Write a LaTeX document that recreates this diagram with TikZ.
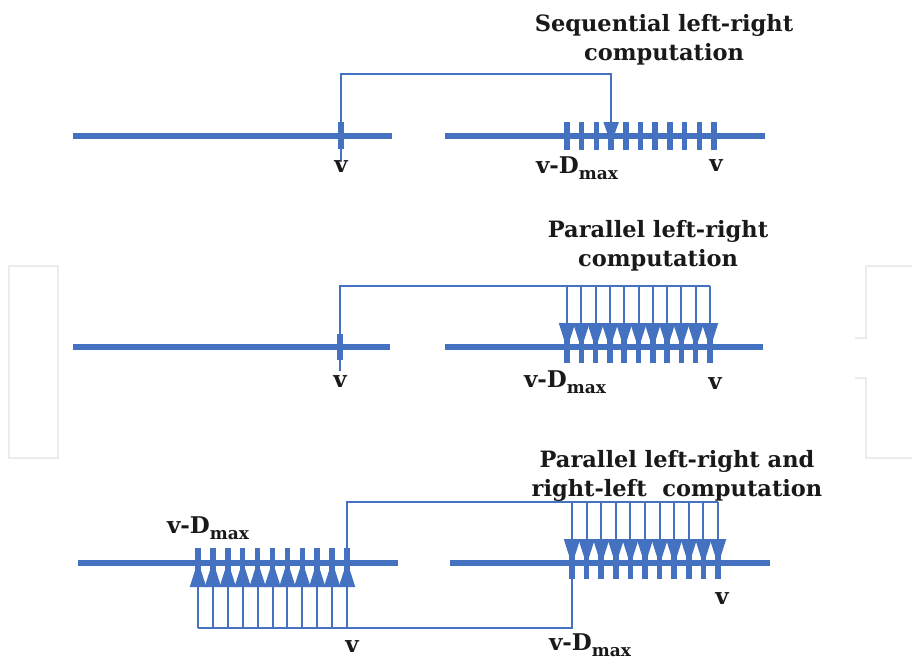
\documentclass[tikz,border=0pt]{standalone}
\usepackage{fontspec}
\setmainfont{DejaVu Serif}
\usetikzlibrary{arrows.meta}
\definecolor{lineblue}{RGB}{68,114,192}
\definecolor{wmgray}{RGB}{236,236,236}
\tikzset{
  mainline/.style={line width=6pt, lineblue},
  tickmark/.style={line width=5.5pt, lineblue},
  conn/.style={line width=2pt, lineblue},
  darrow/.style={line width=2pt, lineblue, -{Triangle[length=26pt,width=16pt]}},
  sarrow/.style={line width=2pt, lineblue, -{Triangle[length=22pt,width=15pt]}},
  title/.style={font=\fontsize{22.5}{29}\selectfont\bfseries, align=center, text=black!90, inner sep=0pt},
  lbl/.style={font=\fontsize{23}{26}\selectfont\bfseries, text=black!90, inner sep=0pt},
  wm/.style={line width=1.6pt, wmgray}
}
\newcommand{\vdmax}{v-D\raisebox{-0.28em}{\fontsize{17}{17}\selectfont max}}
\begin{document}
\begin{tikzpicture}[x=1pt,y=-1pt]
\useasboundingbox (0,0) rectangle (912,662);
% watermark brackets
\draw[wm] (9,266) -- (58,266) -- (58,458) -- (9,458) -- cycle;
\draw[wm] (912,266) -- (866,266) -- (866,338) -- (855,338);
\draw[wm] (855,378) -- (866,378) -- (866,458) -- (912,458);

% ---------- Panel 1 ----------
\node[title] (t1) at (664,40) {Sequential left-right\\computation};
\draw[mainline] (73,136) -- (392,136);
\draw[mainline] (445,136) -- (765,136);
\coordinate (p1v) at (341,136);
\draw[tickmark] ([yshift=-13]p1v) -- ([yshift=14]p1v);
\foreach \i in {0,...,10}{
  \coordinate (p1t\i) at ({567+14.7*\i},136);
  \draw[tickmark] ([yshift=-14]p1t\i) -- ([yshift=14]p1t\i);
}
\coordinate (p1a) at ([yshift=-26]p1v);
\coordinate (p1b) at (341,74);
\coordinate (p1c) at ({567+14.7*3},74);
\coordinate (p1d) at ([yshift=-8]p1t3);
\draw[sarrow] (p1a) -- (p1b) -- (p1c) -- (p1d);
\node[lbl] (l1a) at (341,167) {v};
\node[lbl] (l1b) at (577,168) {\vdmax};
\node[lbl] (l1c) at (716,166) {v};

% ---------- Panel 2 ----------
\node[title] (t2) at (658,246) {Parallel left-right\\computation};
\draw[mainline] (73,347) -- (390,347);
\draw[mainline] (445,347) -- (763,347);
\coordinate (p2v) at (340,347);
\draw[tickmark] ([yshift=-13]p2v) -- ([yshift=13]p2v);
\foreach \i in {0,...,10}{
  \coordinate (p2t\i) at ({567+14.3*\i},347);
  \draw[tickmark] ([yshift=-16]p2t\i) -- ([yshift=16]p2t\i);
}
\coordinate (p2a) at ([yshift=-24]p2v);
\coordinate (p2b) at (340,286);
\draw[conn] (p2a) -- (p2b) -- (p2t10 |- p2b);
\foreach \i in {0,...,10}{
  \draw[darrow] (p2t\i |- p2b) -- ([yshift=-2]p2t\i);
}
\node[lbl] (l2a) at (340,382) {v};
\node[lbl] (l2b) at (565,382) {\vdmax};
\node[lbl] (l2c) at (715,384) {v};

% ---------- Panel 3 ----------
\node[title] (t3) at (677,476) {Parallel left-right and\\right-left\ \ computation};
\draw[mainline] (78,563) -- (398,563);
\draw[mainline] (450,563) -- (770,563);
\foreach \i in {0,...,10}{
  \coordinate (p3l\i) at ({198+14.9*\i},563);
  \draw[tickmark] ([yshift=-15]p3l\i) -- ([yshift=15]p3l\i);
  \coordinate (p3r\i) at ({572+14.6*\i},563);
  \draw[tickmark] ([yshift=-16]p3r\i) -- ([yshift=16]p3r\i);
}
% left-right: from v (left) to right block
\coordinate (p3a) at ([yshift=-26]p3l10);
\coordinate (p3b) at (p3l10 |- 0,502);
\draw[conn] (p3a) -- (p3b) -- (p3r10 |- p3b);
\foreach \i in {0,...,10}{
  \draw[darrow] (p3r\i |- p3b) -- ([yshift=-2]p3r\i);
}
% right-left: from v-Dmax (right) to left block
\coordinate (p3c) at ([yshift=27]p3r0);
\coordinate (p3d) at (p3r0 |- 0,628);
\draw[conn] (p3c) -- (p3d) -- (p3l0 |- p3d);
\foreach \i in {0,...,10}{
  \draw[darrow] (p3l\i |- p3d) -- ([yshift=2]p3l\i);
}
\node[lbl] (l3a) at (208,528) {\vdmax};
\node[lbl] (l3b) at (352,647) {v};
\node[lbl] (l3c) at (722,599) {v};
\node[lbl] (l3d) at (590,645) {\vdmax};
\end{tikzpicture}
\end{document}
